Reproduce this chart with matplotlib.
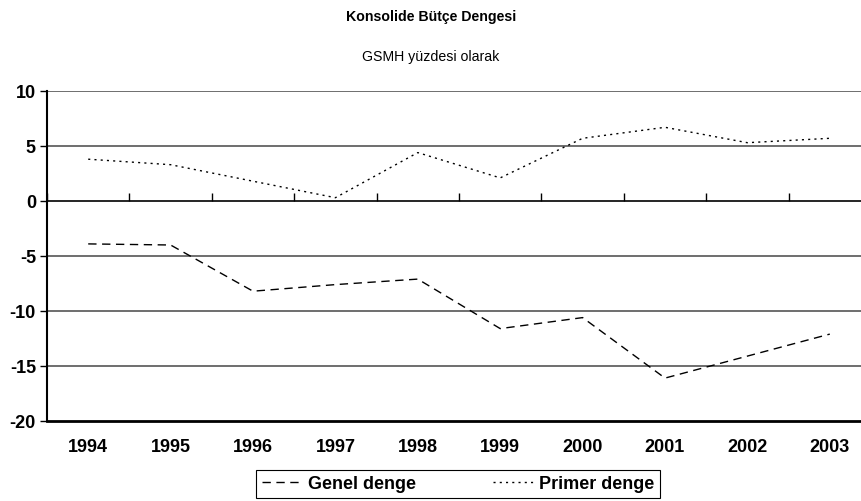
import matplotlib.pyplot as plt
import numpy as np

plt.rcParams['font.family'] = ['Liberation Sans', 'DejaVu Sans']
plt.rcParams['axes.unicode_minus'] = False

years = ['1994', '1995', '1996', '1997', '1998', '1999', '2000', '2001', '2002', '2003']
genel = [-3.9, -4.0, -8.2, -7.6, -7.1, -11.6, -10.6, -16.1, -14.1, -12.1]
primer = [3.8, 3.3, 1.8, 0.3, 4.4, 2.1, 5.7, 6.7, 5.3, 5.7]

W, H = 862, 502
fig = plt.figure(figsize=(W / 100, H / 100), dpi=100)
left, right, top, bottom = 47, 871, 92, 422
ax = fig.add_axes([left / W, 1 - bottom / H, (right - left) / W, (bottom - top) / H])

x = np.arange(len(years)) + 0.5
ax.plot(x, genel, color='black', lw=1, ls=(0, (6, 4)), label='Genel denge')
ax.plot(x, primer, color='black', lw=1, ls=(0, (1.5, 3)), label='Primer denge')

ax.set_xlim(0, len(years))
ax.set_ylim(-20, 10)

# grid lines
for v in [-15, -10, -5, 5, 10]:
    ax.axhline(v, color='#555555', lw=1.2, zorder=0)

# category axis crosses at 0
ax.spines['bottom'].set_position(('data', 0))
ax.spines['bottom'].set_linewidth(1.2)
ax.spines['top'].set_visible(False)
ax.spines['right'].set_visible(False)
ax.spines['left'].set_linewidth(1.5)
ax.set_xticks(np.arange(0, len(years) + 1))
ax.tick_params(axis='x', direction='in', length=6, width=1, labelbottom=False)

ax.set_yticks(np.arange(-20, 11, 5))
ax.tick_params(axis='y', direction='out', length=5, width=1, labelsize=13, pad=3)
for t in ax.get_yticklabels():
    t.set_fontweight('bold')

sec = ax.secondary_xaxis(0)
sec.set_xticks(x)
sec.set_xticklabels(years, fontsize=13, fontweight='bold')
sec.tick_params(length=0, pad=12)
sec.spines['bottom'].set_linewidth(2)

fig.text(431 / W, 1 - 17 / H, 'Konsolide Bütçe Dengesi', ha='center', va='center',
         fontsize=10.2, fontweight='bold')
fig.text(431 / W, 1 - 57 / H, 'GSMH yüzdesi olarak', ha='center', va='center', fontsize=10.2)

leg = fig.legend(loc='center', bbox_to_anchor=(458 / W, 1 - 485 / H), ncol=2,
                 frameon=True, fancybox=False, edgecolor='black', framealpha=1,
                 prop={'weight': 'bold', 'size': 13}, handlelength=2.2,
                 columnspacing=4.3, borderpad=0.3, handletextpad=0.35)
leg.get_frame().set_linewidth(0.8)

fig.savefig('out.png', dpi=100)
